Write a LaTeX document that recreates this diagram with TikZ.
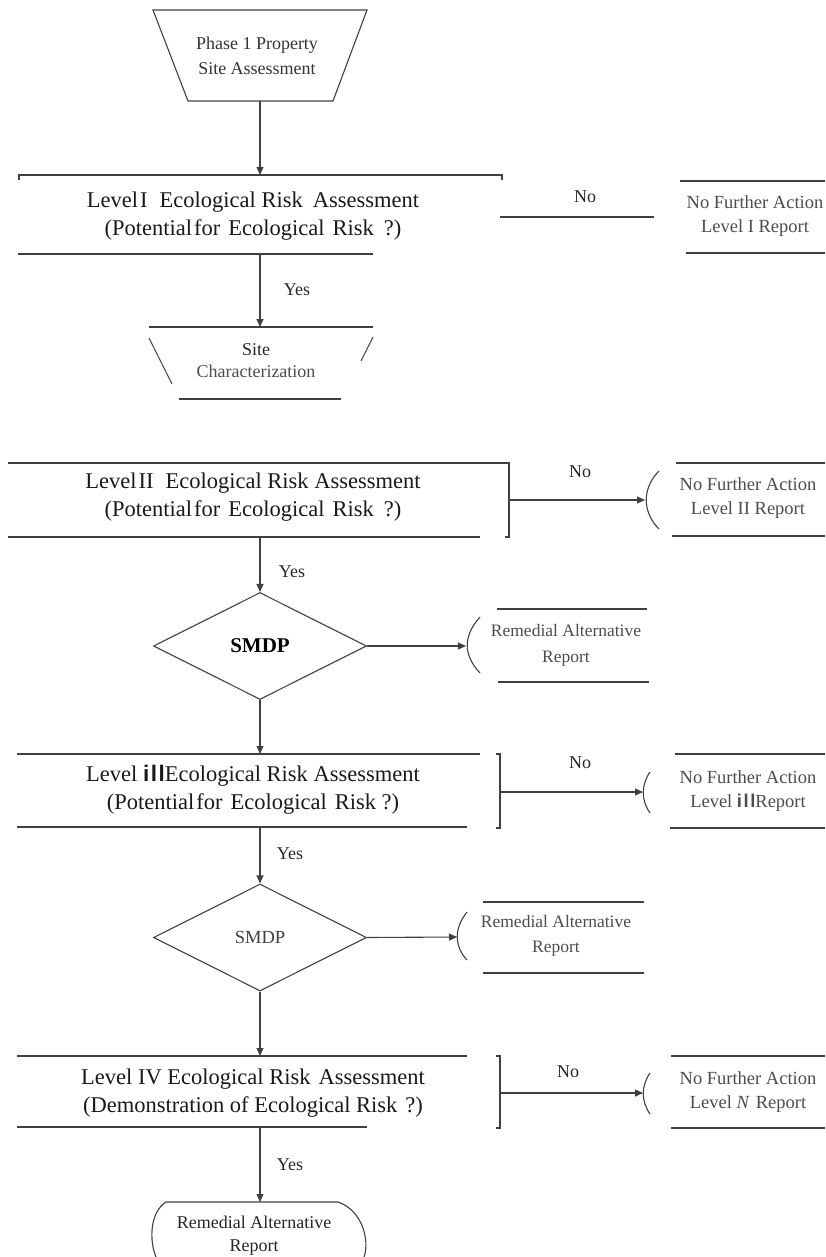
\documentclass[tikz,border=0pt]{standalone}
\usepackage{fontspec}
\setmainfont{Liberation Serif}
\newfontfamily\arialf{Liberation Sans}
\newcommand{\illtxt}{{\arialf\bfseries i\kern1.5pt l\kern1.5pt l}}
\usetikzlibrary{arrows.meta,shapes.geometric}
\begin{document}
\begin{tikzpicture}[x=1pt,y=-1pt,
  ln/.style={line width=1.1pt, draw=black!75},
  conn/.style={ln, -{Triangle[length=8pt,width=7pt]}},
  big/.style={font=\fontsize{22.5}{28}\selectfont, align=center, inner sep=0pt, text=black!90},
  small/.style={font=\fontsize{18.5}{24}\selectfont, align=center, inner sep=0pt, text=black!70},
  lbl/.style={font=\fontsize{18}{22}\selectfont, inner sep=0pt, text=black!85},
  dia/.style={diamond, ln, minimum width=213pt, minimum height=107pt, inner sep=0pt}]
\useasboundingbox (0,0) rectangle (825,1257);

% ---------- Phase 1 ----------
\draw[ln] (153,10) -- (367,10) -- (333,101) -- (188,101) -- cycle;
\node[small, text=black!80, font=\fontsize{18}{25}\selectfont] (phase) at (257,56) {Phase 1 Property\\Site Assessment};
\coordinate (p1s) at (260,101);
\coordinate (l1n) at (260,175);
\draw[conn] (p1s) -- (l1n);

% ---------- Level I ----------
\draw[ln] (19,180) -- (19,175) -- (502,175) -- (502,180);
\draw[ln] (18,254) -- (373,254);
\node[big] (l1) at (253,216) {Level\hspace{2pt}I\hspace{12pt}Ecological Risk\hspace{10pt}Assessment\\(Potential\hspace{2pt}for\hspace{8pt}Ecological\hspace{8pt}Risk\hspace{10pt}?)};
\node[lbl] (no1) at (585,197) {No};
\coordinate (n1a) at (500,217);
\coordinate (n1b) at (654,217);
\draw[ln] (n1a) -- (n1b);
\draw[ln] (680,181) -- (825,181);
\draw[ln] (686,253) -- (825,253);
\node[small] (nfa1) at (755,216) {No Further Action\\Level I Report};

\coordinate (l1s) at (260,254);
\coordinate (scn) at (260,327);
\draw[conn] (l1s) -- (scn);
\node[lbl] (yes1) at (297,290) {Yes};

% ---------- Site Characterization ----------
\draw[ln] (149,327) -- (373,327);
\draw[ln] (149,338) -- (172,384);
\draw[ln] (373,337) -- (361,361);
\draw[ln] (179,399) -- (341,399);
\node[small, font=\fontsize{18}{22}\selectfont] (sc) at (256,361) {{\color{black!85}Site}\\Characterization};

% ---------- Level II ----------
\draw[ln] (8,463) -- (509,463);
\draw[ln] (8,537) -- (480,537);
\draw[ln] (505,463) -- (509,463) -- (509,537) -- (505,537);
\node[big] (l2) at (253,497) {Level\hspace{2pt}II\hspace{12pt}Ecological Risk Assessment\\(Potential\hspace{2pt}for\hspace{8pt}Ecological\hspace{8pt}Risk\hspace{10pt}?)};
\coordinate (l2e) at (509,500);
\coordinate (a2) at (645,500);
\draw[conn] (l2e) -- (a2);
\draw[ln] (659,471) .. controls (642,488) and (642,512) .. (659,529);
\node[lbl] (no2) at (580,472) {No};
\draw[ln] (676,463) -- (825,463);
\draw[ln] (672,536) -- (825,536);
\node[small] (nfa2) at (748,498) {No Further Action\\Level II Report};

\coordinate (l2s) at (260,537);
\node[dia, font=\fontsize{21}{24}\selectfont\bfseries] (d1) at (260,646) {SMDP};
\draw[conn] (l2s) -- (d1.north);
\node[lbl] (yes2) at (292,572) {Yes};

\coordinate (a3) at (466,646);
\draw[conn] (d1.east) -- (a3);
\draw[ln] (480,617) .. controls (463,636) and (463,655) .. (480,673);
\draw[ln] (497,609) -- (647,609);
\draw[ln] (498,682) -- (649,682);
\node[small, font=\fontsize{17.5}{26}\selectfont] (rar1) at (566,645) {Remedial Alternative\\Report};

% ---------- Level III ----------
\coordinate (l3n) at (260,754);
\draw[conn] (d1.south) -- (l3n);
\draw[ln] (17,754) -- (480,754);
\draw[ln] (17,827) -- (467,827);
\draw[ln] (496,754) -- (500,754) -- (500,828) -- (496,828);
\node[big] (l3) at (253,790) {Level \illtxt Ecological Risk Assessment\\(Potential\hspace{2pt}for\hspace{8pt}Ecological\hspace{8pt}Risk ?)};
\coordinate (l3e) at (500,792);
\coordinate (a4) at (643,792);
\draw[conn] (l3e) -- (a4);
\draw[ln] (650,772) .. controls (641,785) and (641,800) .. (650,813);
\node[lbl] (no3) at (580,763) {No};
\draw[ln] (675,754) -- (825,754);
\draw[ln] (670,828) -- (825,828);
\node[small] (nfa3) at (748,791) {No Further Action\\Level \illtxt Report};

\coordinate (l3s) at (260,827);
\node[dia, font=\fontsize{18.5}{22}\selectfont, text=black!75] (d2) at (260,937.5) {SMDP};
\draw[conn] (l3s) -- (d2.north);
\node[lbl] (yes3) at (290,854) {Yes};

\coordinate (a5) at (457,937);
\draw[conn] (d2.east) -- (a5);
\draw[ln] (467,912) .. controls (454,928) and (454,946) .. (467,960);
\draw[ln] (483,902) -- (644,902);
\draw[ln] (483,973) -- (644,973);
\node[small, font=\fontsize{17.5}{25}\selectfont] (rar2) at (556,936) {Remedial Alternative\\Report};

% ---------- Level IV ----------
\coordinate (l4n) at (260,1056);
\draw[conn] (d2.south) -- (l4n);
\draw[ln] (17,1056) -- (467,1056);
\draw[ln] (17,1127) -- (367,1127);
\draw[ln] (496,1056) -- (500,1056) -- (500,1128) -- (496,1128);
\node[big] (l4) at (253,1093) {Level IV Ecological Risk\hspace{8pt}Assessment\\(Demonstration of Ecological Risk\hspace{8pt}?)};
\coordinate (l4e) at (500,1093);
\coordinate (a6) at (643,1093);
\draw[conn] (l4e) -- (a6);
\draw[ln] (650,1073) .. controls (641,1086) and (641,1101) .. (650,1114);
\node[lbl] (no4) at (568,1072) {No};
\draw[ln] (671,1056) -- (825,1056);
\draw[ln] (671,1128) -- (825,1128);
\node[small] (nfa4) at (748,1092) {No Further Action\\Level \textit{N}\hspace{6pt}Report};

\coordinate (l4s) at (260,1127);
\coordinate (rbn) at (260,1202);
\draw[conn] (l4s) -- (rbn);
\node[lbl] (yes4) at (290,1165) {Yes};

% ---------- final rounded box ----------
\draw[ln] (156,1257) .. controls (149,1240) and (150,1212) .. (166,1202) -- (338,1202)
  .. controls (362,1210) and (370,1240) .. (364,1257);
\node[lbl, align=center, font=\fontsize{18}{23}\selectfont] (rar3) at (254,1236) {Remedial Alternative\\Report};
\end{tikzpicture}
\end{document}
